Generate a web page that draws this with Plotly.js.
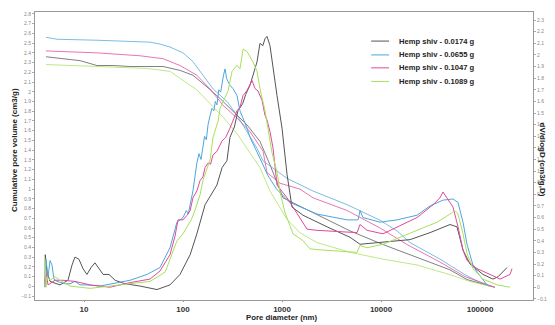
<!DOCTYPE html>
<html>
<head>
<meta charset="utf-8">
<script src="https://cdn.plot.ly/plotly-3.0.1.min.js"></script>
<style>html,body{margin:0;padding:0;background:#fff;}#chart{width:555px;height:325px;}</style>
</head>
<body>
<div id="chart"></div>
<script>
// ---- Data (pore diameter in nm) ----
var seriesNames = ["Hemp shiv - 0.0174 g", "Hemp shiv - 0.0655 g", "Hemp shiv - 0.1047 g", "Hemp shiv - 0.1089 g"];
var xTickVals = [10, 100, 1000, 10000, 100000];
var xTickText = ["10", "100", "1000", "10000", "100000"];

// Cumulative pore volume (cm3/g) - left axis
var blackCumD = [4.13, 6.14, 9.11, 13.5, 19.6, 29.2, 46.4, 62.8, 93.3, 126, 170, 237, 320, 443, 599, 756, 1024, 2258, 4864, 10471, 23105, 49774, 73907, 107152, 141579];
var blackCumV = [2.36, 2.34, 2.32, 2.27, 2.27, 2.26, 2.26, 2.26, 2.22, 2.17, 2.06, 1.93, 1.80, 1.66, 1.49, 1.25, 0.91, 0.74, 0.57, 0.43, 0.30, 0.17, 0.07, 0.02, -0.01];

var blueCumD = [4.13, 5.34, 13.5, 29.2, 46.4, 58.6, 73.9, 100, 126, 159, 201, 278, 351, 443, 559, 643, 1124, 2057, 4539, 9772, 14512, 19635, 39408, 70469, 100000, 126183];
var blueCumV = [2.56, 2.54, 2.53, 2.52, 2.51, 2.49, 2.46, 2.40, 2.31, 2.17, 2.03, 1.90, 1.76, 1.59, 1.42, 1.29, 1.11, 0.98, 0.84, 0.68, 0.57, 0.45, 0.28, 0.12, 0.04, 0.00];

var pinkCumD = [4.13, 13.5, 36.8, 62.8, 93.3, 138, 187, 254, 351, 475, 643, 705, 954, 1520, 2057, 4539, 9772, 18323, 39408, 70469, 117761, 141579];
var pinkCumV = [2.42, 2.40, 2.37, 2.34, 2.27, 2.17, 2.03, 1.86, 1.73, 1.59, 1.39, 1.17, 1.06, 1.00, 0.91, 0.78, 0.60, 0.43, 0.25, 0.10, 0.02, -0.01];

var greenCumD = [4.13, 13.5, 43.3, 73.9, 100, 138, 187, 254, 351, 475, 599, 756, 954, 1124, 1520, 2258, 4864, 10471, 23105, 49774, 79250, 126183];
var greenCumV = [2.28, 2.26, 2.24, 2.21, 2.12, 2.02, 1.88, 1.74, 1.57, 1.37, 1.22, 0.98, 0.81, 0.69, 0.55, 0.45, 0.35, 0.28, 0.22, 0.12, 0.05, 0.00];

// dV/dlogD (cm3/g) - right axis
var blackDvD = [4.04, 4.06, 4.23, 4.54, 5.72, 6.89, 7.56, 8.11, 8.90, 9.77, 10.7, 11.8, 12.9, 14.2, 15.6, 17.9, 20.6, 25.9, 36.8, 54.6, 73.9, 93.3, 118, 138, 167, 220, 248, 278, 298, 330, 359, 400, 430, 475, 520, 559, 599, 640, 673, 705, 756, 811, 890, 1000, 1073, 1124, 1262, 1629, 2849, 4864, 6137, 10471, 19635, 31261, 49774, 58570, 67298, 79250, 107152, 135207, 152055, 187499];
var blackDvV = [0.00, 0.28, 0.13, 0.05, 0.02, 0.06, 0.19, 0.26, 0.24, 0.16, 0.11, 0.17, 0.21, 0.16, 0.11, 0.11, 0.06, 0.03, 0.01, -0.02, 0.02, 0.11, 0.28, 0.46, 0.71, 0.88, 1.03, 1.09, 1.29, 1.38, 1.52, 1.58, 1.66, 1.74, 1.86, 1.94, 2.10, 2.08, 2.14, 2.16, 2.08, 1.88, 1.65, 1.37, 1.09, 0.97, 0.69, 0.62, 0.52, 0.43, 0.37, 0.39, 0.41, 0.47, 0.54, 0.52, 0.32, 0.20, 0.11, 0.07, 0.09, 0.17];

var blueDvD = [4.04, 4.13, 4.33, 4.54, 4.75, 4.97, 5.34, 6.47, 7.22, 8.11, 9.11, 10.7, 14.5, 19.6, 29.2, 43.3, 58.6, 73.9, 86.9, 100, 108, 113, 120, 126, 138, 145, 152, 159, 165, 172, 179, 188, 196, 205, 212, 220, 230, 240, 248, 257, 266, 275, 285, 298, 320, 351, 376, 404, 443, 475, 559, 599, 722, 890, 1205, 2258, 4539, 5861, 6137, 6576, 9772, 14512, 23105, 31261, 42267, 53333, 59948, 67298, 73907, 84918, 93325, 117761];
var blueDvV = [0.02, 0.24, 0.09, 0.23, 0.19, 0.07, 0.05, 0.03, 0.03, 0.05, 0.02, 0.02, 0.01, 0.03, 0.06, 0.11, 0.17, 0.34, 0.56, 0.60, 0.66, 0.63, 0.76, 0.83, 1.07, 1.15, 1.10, 1.23, 1.30, 1.27, 1.40, 1.48, 1.54, 1.52, 1.60, 1.57, 1.70, 1.68, 1.77, 1.83, 1.88, 1.80, 1.77, 1.74, 1.71, 1.65, 1.52, 1.46, 1.37, 1.29, 1.17, 1.11, 0.96, 0.84, 0.73, 0.63, 0.58, 0.58, 0.66, 0.60, 0.56, 0.58, 0.62, 0.70, 0.75, 0.76, 0.73, 0.56, 0.37, 0.19, 0.13, 0.02];

var pinkDvD = [4.04, 4.13, 4.33, 5.10, 6.14, 8.11, 11.5, 18.3, 29.2, 46.4, 58.6, 73.9, 83.0, 89.0, 100, 110, 118, 126, 138, 149, 159, 167, 179, 190, 201, 220, 248, 270, 298, 320, 351, 376, 404, 440, 475, 498, 534, 572, 628, 673, 705, 756, 811, 890, 1124, 1790, 2258, 5727, 6137, 7222, 10471, 15551, 23105, 33497, 39408, 42267, 46434, 53333, 59948, 67298, 73907, 93325, 126183, 159221, 200909, 210378];
var pinkDvV = [0.05, 0.13, 0.02, 0.06, 0.06, 0.05, 0.02, 0.00, 0.04, 0.07, 0.14, 0.28, 0.44, 0.58, 0.58, 0.62, 0.66, 0.77, 0.83, 0.92, 0.95, 1.03, 1.07, 1.06, 1.14, 1.17, 1.26, 1.29, 1.37, 1.43, 1.52, 1.55, 1.65, 1.69, 1.74, 1.78, 1.71, 1.69, 1.61, 1.48, 1.44, 1.34, 1.20, 0.88, 0.77, 0.50, 0.49, 0.47, 0.54, 0.49, 0.46, 0.53, 0.60, 0.71, 0.77, 0.82, 0.77, 0.69, 0.52, 0.32, 0.23, 0.16, 0.11, 0.07, 0.11, 0.16];

var greenDvD = [4.04, 4.13, 4.23, 4.54, 5.10, 5.72, 7.22, 11.5, 18.3, 29.2, 46.4, 66.0, 73.9, 86.9, 100, 110, 121, 132, 149, 159, 175, 188, 201, 226, 237, 266, 285, 313, 351, 376, 404, 443, 475, 509, 559, 599, 673, 722, 792, 890, 954, 1073, 1292, 1629, 1919, 2594, 5727, 6137, 7222, 10471, 15551, 23105, 36767, 49774, 55847, 59948, 67298, 73907, 84918, 107152, 148594, 200909];
var greenDvV = [0.24, 0.00, 0.09, 0.06, 0.09, 0.06, 0.01, -0.01, 0.01, 0.03, 0.05, 0.13, 0.24, 0.40, 0.46, 0.52, 0.58, 0.66, 0.80, 0.92, 1.03, 1.10, 1.29, 1.43, 1.54, 1.63, 1.69, 1.86, 1.91, 1.88, 2.05, 2.03, 1.99, 1.94, 1.86, 1.71, 1.52, 1.37, 1.16, 0.99, 0.82, 0.64, 0.46, 0.40, 0.33, 0.32, 0.30, 0.36, 0.34, 0.37, 0.43, 0.49, 0.56, 0.63, 0.66, 0.63, 0.46, 0.29, 0.16, 0.07, 0.02, 0.00];

var seriesColors = ["#555555", "#4ea6dc", "#e2489a", "#a8e05c"];

// ---- Traces ----
var cumD = [blackCumD, blueCumD, pinkCumD, greenCumD];
var cumV = [blackCumV, blueCumV, pinkCumV, greenCumV];
var dvD = [blackDvD, blueDvD, pinkDvD, greenDvD];
var dvV = [blackDvV, blueDvV, pinkDvV, greenDvV];
var traces = [];
for (var i = 0; i < 4; i++) {
  traces.push({x: cumD[i], y: cumV[i], type: 'scatter', mode: 'lines', name: seriesNames[i],
    line: {color: seriesColors[i], width: 1}, opacity: 0.75, yaxis: 'y', showlegend: false, hoverinfo: 'skip'});
}
for (var j = 0; j < 4; j++) {
  traces.push({x: dvD[j], y: dvV[j], type: 'scatter', mode: 'lines', name: seriesNames[j],
    line: {color: seriesColors[j], width: 1}, yaxis: 'y2', showlegend: false});
}

// ---- Legend (manual, compact like the original) ----
var legendY = [0.899, 0.851, 0.806, 0.759];
var shapes = [];
var annotations = [];
for (var k = 0; k < 4; k++) {
  shapes.push({type: 'line', xref: 'paper', yref: 'paper', x0: 0.675, x1: 0.711, y0: legendY[k], y1: legendY[k],
    line: {color: seriesColors[k], width: 1}});
  annotations.push({xref: 'paper', yref: 'paper', x: 0.727, y: legendY[k], xanchor: 'left', yanchor: 'middle',
    text: seriesNames[k], showarrow: false, font: {size: 7.6, color: '#222', family: 'Liberation Sans, Arial, sans-serif', weight: 'bold'}});
}
annotations.push({xref: 'paper', yref: 'paper', x: 0.494, y: -0.062, xanchor: 'center', yanchor: 'middle',
  text: 'Pore diameter (nm)', showarrow: false, font: {size: 7.8, color: '#222', weight: 'bold'}});
annotations.push({xref: 'paper', yref: 'paper', x: -0.040, y: 0.521, xanchor: 'center', yanchor: 'middle', textangle: -90,
  text: 'Cumulative pore volume (cm3/g)', showarrow: false, font: {size: 8, color: '#222', weight: 'bold'}});
annotations.push({xref: 'paper', yref: 'paper', x: 1.021, y: 0.486, xanchor: 'center', yanchor: 'middle', textangle: 90,
  text: 'dV/dlogD (cm3/g,D)', showarrow: false, font: {size: 8, color: '#222', weight: 'bold'}});

var layout = {
  width: 555, height: 325,
  margin: {l: 35, r: 22, t: 12, b: 25, pad: 0},
  paper_bgcolor: '#fff', plot_bgcolor: '#fff',
  font: {family: 'Liberation Sans, Arial, sans-serif', color: '#333'},
  showlegend: false,
  xaxis: {type: 'log', range: [0.505, 5.535], tickvals: xTickVals, ticktext: xTickText,
    showgrid: false, zeroline: false, showline: true, linecolor: '#999', linewidth: 1, mirror: true,
    ticks: 'outside', ticklen: 1, tickcolor: '#999',
    tickfont: {size: 8, color: '#333', weight: 'bold'}},
  yaxis: {range: [-0.14, 2.82], tick0: -0.1, dtick: 0.1, showgrid: false, zeroline: false,
    showline: true, linecolor: '#999', linewidth: 1, ticks: 'outside', ticklen: 2, tickcolor: '#aaa',
    tickfont: {size: 5, color: '#888'}, tickformat: '.1~f'},
  yaxis2: {range: [-0.11, 2.37], tick0: -0.1, dtick: 0.1, overlaying: 'y', side: 'right', showgrid: false, zeroline: false,
    showline: true, linecolor: '#999', linewidth: 1, ticks: 'outside', ticklen: 2, tickcolor: '#aaa',
    tickfont: {size: 5, color: '#888'}, tickformat: '.1~f'},
  shapes: shapes,
  annotations: annotations
};

Plotly.newPlot('chart', traces, layout, {displayModeBar: false, staticPlot: true});
</script>
</body>
</html>
